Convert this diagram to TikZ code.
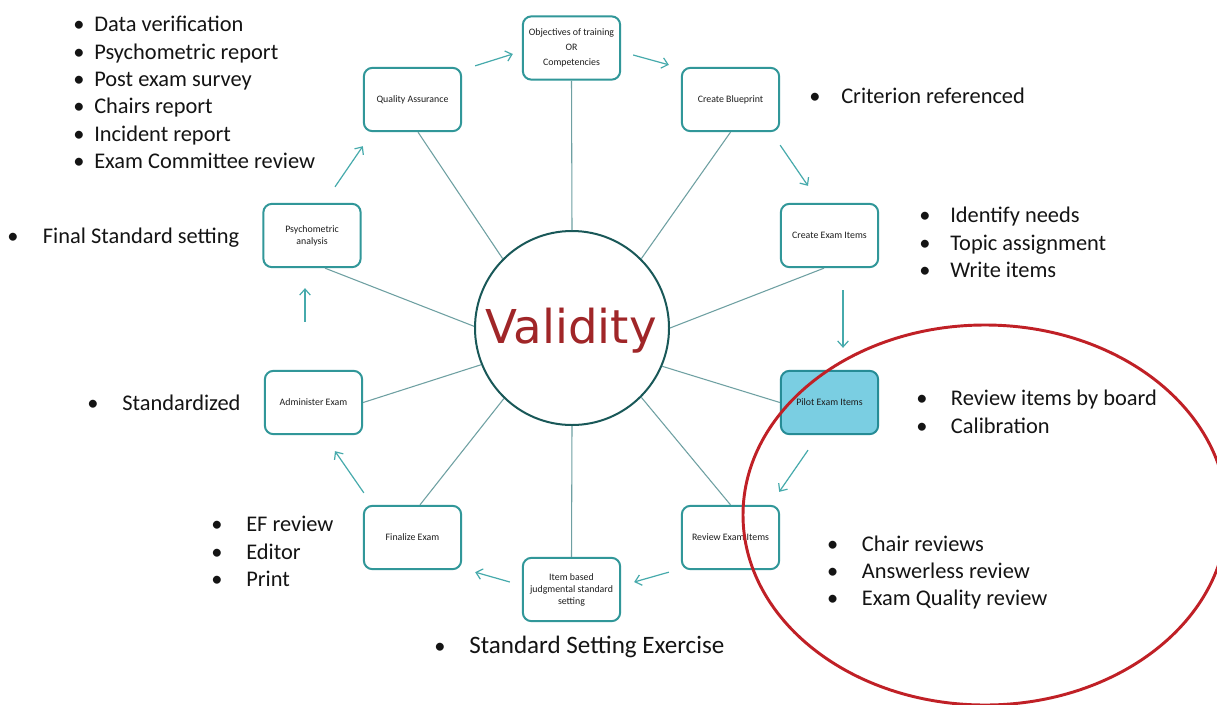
\documentclass[tikz,border=0pt]{standalone}
\usepackage{fontspec}
\setmainfont{Carlito}
\newfontfamily\valfont{DejaVu Sans}
\usetikzlibrary{arrows.meta,calc}
\definecolor{boxc}{RGB}{49,151,153}
\definecolor{pilfill}{RGB}{122,206,226}
\definecolor{pilline}{RGB}{38,140,150}
\definecolor{circc}{RGB}{25,88,88}
\definecolor{spokec}{RGB}{110,160,162}
\definecolor{arrc}{RGB}{70,170,172}
\definecolor{redc}{RGB}{192,32,38}
\definecolor{valc}{RGB}{160,38,40}
\definecolor{txtc}{RGB}{20,20,20}
\definecolor{lblc}{RGB}{30,30,30}
\tikzset{
  box/.style={draw=boxc, line width=1.5pt, rounded corners=6.5pt, fill=white,
    minimum width=73pt, minimum height=47.5pt, inner sep=1pt, align=center,
    font=\fontsize{7.4}{9}\selectfont, text=lblc},
  spoke/.style={draw=spokec, line width=0.8pt},
  flow/.style={draw=arrc, line width=0.9pt, -{Straight Barb[length=4.5pt,width=8pt]}},
  btxt/.style={anchor=base west, font=\fontsize{16.8}{20}\selectfont, inner sep=0pt, text=txtc},
  bul/.style={anchor=base, font=\fontsize{16.8}{20}\selectfont, inner sep=0pt, text=txtc}
}
\begin{document}
\begin{tikzpicture}[x=0.75pt,y=-0.75pt]
\useasboundingbox (0,0) rectangle (1217,704);
\fill[white] (0,0) rectangle (1217,704);

% central circle
\node[circle, draw=circc, line width=1.5pt, fill=white, minimum size=145.5pt, inner sep=0pt] (v) at (572,328) {};
\node[anchor=base, inner sep=0pt, text=valc, font=\valfont\fontsize{35}{40}\selectfont] (vt) at (571,343) {Validity};

% boxes
\node[box, font=\fontsize{7.4}{11.25}\selectfont] (obj) at (571.5,48) {Objectives of training\\OR\\Competencies};
\node[box] (qa)  at (412.5,99.5) {Quality Assurance};
\node[box] (bp)  at (730.5,99.5) {Create Blueprint};
\node[box] (psy) at (312,235.5) {Psychometric\\analysis};
\node[box] (cei) at (829.5,235.5) {Create Exam Items};
\node[box] (adm) at (313.5,402.5) {Administer Exam};
\node[box, fill=pilfill, draw=pilline] (pil) at (829.5,402.5) {Pilot Exam Items};
\node[box] (fin) at (412.5,537.5) {Finalize Exam};
\node[box] (rev) at (730.5,537.5) {Review Exam Items};
\node[box] (itm) at (571.5,589.5) {Item based\\judgmental standard\\setting};

% spokes
\draw[spoke] (obj.south) -- (v.90);
\draw[spoke] ($(qa.south)+(5.5,0)$) -- (v.135);
\draw[spoke] (bp.south) -- (v.45);
\draw[spoke] ($(psy.south)+(13,0)$) -- (v.179);
\draw[spoke] ($(cei.south)+(-5.5,0)$) -- (v.0);
\draw[spoke] (adm.east) -- (v.202);
\draw[spoke] (pil.west) -- (v.337);
\draw[spoke] ($(fin.north)+(7.5,0)$) -- (v.226);
\draw[spoke] (rev.north) -- (v.315);
\draw[spoke] (itm.north) -- (v.270);

% flow arrows
\draw[flow] ($(qa.north east)+(13,-1)$) -- ($(obj.west)+(-9,6)$);
\draw[flow] ($(obj.east)+(12,7)$) -- ($(bp.north west)+(-12,-2)$);
\draw[flow] ($(bp.south east)+(0,13)$) -- ($(cei.north)+(-21.5,-17)$);
\draw[flow] ($(cei.south)+(13.5,22)$) -- ($(pil.north)+(13.5,-22)$);
\draw[flow] ($(pil.south)+(-21.5,15)$) -- ($(rev.north east)+(-1,-13)$);
\draw[flow] ($(rev.south west)+(-12,2)$) -- ($(itm.east)+(13,-7.5)$);
\draw[flow] ($(itm.west)+(-12,-7.5)$) -- ($(fin.south east)+(13,2)$);
\draw[flow] ($(fin.north west)+(1,-12)$) -- ($(adm.south)+(21.5,16)$);
\draw[flow] ($(adm.north)+(-8.5,-48)$) -- ($(psy.south)+(-7,20)$);
\draw[flow] ($(psy.north)+(23,-16)$) -- ($(qa.south west)+(0,14)$);

% top-left list
\node[bul] (b1) at (79,31.7) {•};   \node[btxt] (t1) at (94,31.7) {Data verification};
\node[bul] (b2) at (79,59) {•};     \node[btxt] (t2) at (94,59) {Psychometric report};
\node[bul] (b3) at (79,86.3) {•};   \node[btxt] (t3) at (94,86.3) {Post exam survey};
\node[bul] (b4) at (79,113.6) {•};  \node[btxt] (t4) at (94,113.6) {Chairs report};
\node[bul] (b5) at (79,141) {•};    \node[btxt] (t5) at (94,141) {Incident report};
\node[bul] (b6) at (79,168.3) {•};  \node[btxt] (t6) at (94,168.3) {Exam Committee review};

\node[bul] (b7) at (13,243.3) {•};  \node[btxt] (t7) at (42.7,243.3) {Final Standard setting};
\node[bul] (b8) at (815,103) {•};   \node[btxt] (t8) at (841,103) {Criterion referenced};

\node[bul] (b9) at (925,222) {•};   \node[btxt] (t9) at (950,222) {Identify needs};
\node[bul] (b10) at (925,250) {•};  \node[btxt] (t10) at (950,250) {Topic assignment};
\node[bul] (b11) at (925,277) {•};  \node[btxt] (t11) at (950,277) {Write items};

\node[bul] (b12) at (93,410) {•};   \node[btxt] (t12) at (122,410) {Standardized};

\node[bul] (b13) at (922,405.7) {•}; \node[btxt] (t13) at (950.7,405.7) {Review items by board};
\node[bul] (b14) at (922,433.3) {•}; \node[btxt] (t14) at (950.7,433.3) {Calibration};

\node[bul] (b15) at (217,531.7) {•}; \node[btxt] (t15) at (246,531.7) {EF review};
\node[bul] (b16) at (217,559) {•};   \node[btxt] (t16) at (246,559) {Editor};
\node[bul] (b17) at (217,586.7) {•}; \node[btxt] (t17) at (246,586.7) {Print};

\node[bul] (b18) at (832.7,551.7) {•}; \node[btxt] (t18) at (861.7,551.7) {Chair reviews};
\node[bul] (b19) at (832.7,578.3) {•}; \node[btxt] (t19) at (861.7,578.3) {Answerless review};
\node[bul] (b20) at (832.7,605.7) {•}; \node[btxt] (t20) at (861.7,605.7) {Exam Quality review};

\node[bul] (b21) at (440,653) {•};
\node[btxt, font=\fontsize{18.8}{22}\selectfont] (t21) at (469,653) {Standard Setting Exercise};

% red ellipse
\begin{scope}
\clip (0,0) rectangle (1217,704);
\draw[redc, line width=2.2pt] (985,515) ellipse [x radius=242, y radius=190];
\end{scope}
\end{tikzpicture}
\end{document}
